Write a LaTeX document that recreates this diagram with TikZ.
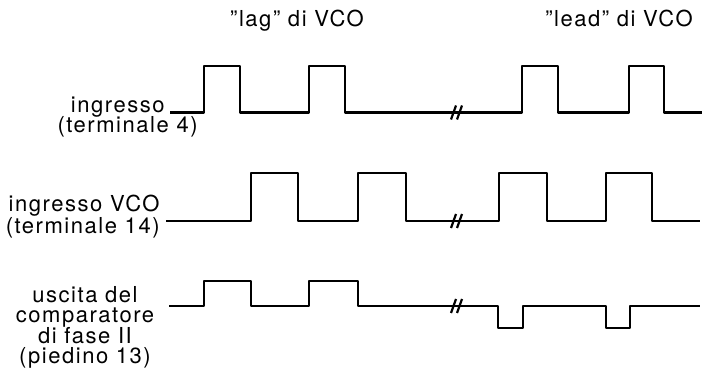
\documentclass[tikz,border=0pt]{standalone}
\usepackage{fontspec}
\setmainfont{TeX Gyre Heros}[Ligatures=TeX, LetterSpace=7]

\begin{document}
\begin{tikzpicture}[x=0.5pt,y=0.5pt,
    segnale/.style={line width=1.1pt, line join=round},
    taglio/.style={line width=1.1pt},
    etichetta/.style={font=\fontsize{11}{13}\selectfont, inner sep=0pt}]
    \useasboundingbox (0,0) rectangle (704,379);

    % Titoli
    \node[etichetta, anchor=base] (lag) at (297,352) {''lag'' di VCO};
    \node[etichetta, anchor=base] (lead) at (619,352) {''lead'' di VCO};

    % Ingresso (terminale 4)
    \node[etichetta, anchor=base east] (ingA) at (165,266) {ingresso};
    \node[etichetta, anchor=base east] (ingB) at (198,246) {(terminale 4)};
    \draw[segnale] (170,266.5)
        \foreach \a/\b in {204/240, 309/345, 522/558, 629/664} {
            -- (\a,266.5) -- (\a,313) -- (\b,313) -- (\b,266.5)
        } -- (702,266.5);

    % Ingresso VCO (terminale 14)
    \node[etichetta, anchor=base east] (vcoA) at (160,167) {ingresso VCO};
    \node[etichetta, anchor=base east] (vcoB) at (160,145) {(terminale 14)};
    \draw[segnale] (166,158)
        \foreach \a/\b in {251/298, 358/406, 499/547, 606/652} {
            -- (\a,158) -- (\a,206) -- (\b,206) -- (\b,158)
        } -- (700,158);

    % Uscita del comparatore di fase II (piedino 13)
    \node[etichetta, anchor=base] (cmpA) at (85,76) {uscita del};
    \node[etichetta, anchor=base] (cmpB) at (85,56) {comparatore};
    \node[etichetta, anchor=base] (cmpC) at (85,36) {di fase II};
    \node[etichetta, anchor=base] (cmpD) at (85,16) {(piedino 13)};
    \draw[segnale] (169,73)
        \foreach \a/\b in {204/251, 309/358} {
            -- (\a,73) -- (\a,98) -- (\b,98) -- (\b,73)
        }
        \foreach \a/\b in {498/523, 606/630} {
            -- (\a,73) -- (\a,51) -- (\b,51) -- (\b,73)
        } -- (700,73);

    % Interruzioni
    \foreach \y in {266.5, 158, 73} {
        \draw[taglio] (451,\y-7) -- (456,\y+7);
        \draw[taglio] (457,\y-7) -- (462,\y+7);
    }
\end{tikzpicture}
\end{document}
